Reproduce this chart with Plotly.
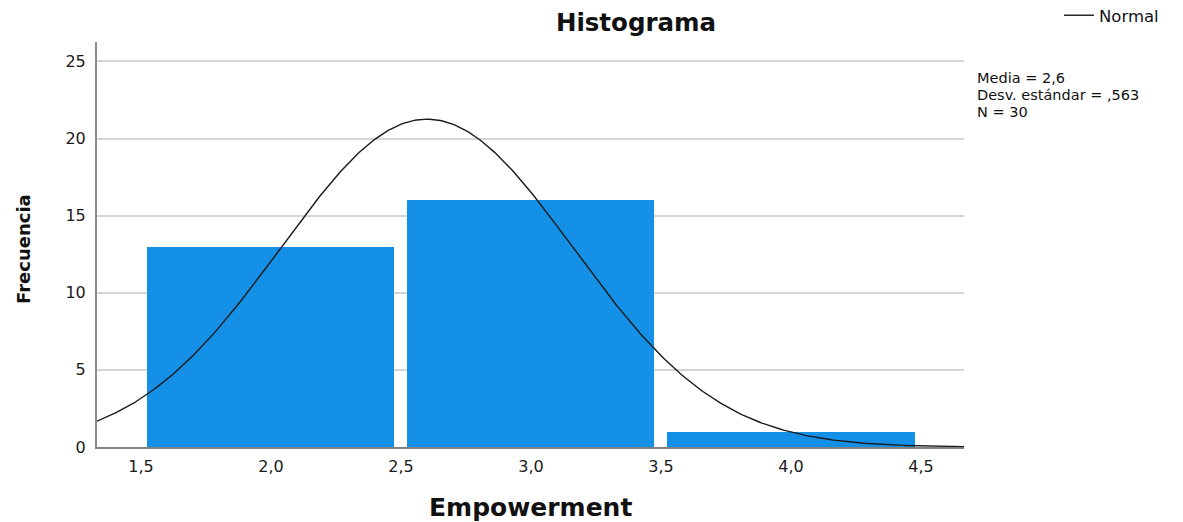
import numpy as np
import plotly.graph_objects as go

# Frequency table for Empowerment (bins of width 1)
bin_centers = [2.0, 3.0, 4.0]
counts = [13, 16, 1]

# Descriptive statistics shown beside the chart
mean_val = 2.6
sd_val = 0.563
n_obs = 30
bin_width = 1.0

x_tick_vals = [1.5, 2.0, 2.5, 3.0, 3.5, 4.0, 4.5]
x_tick_text = ["1,5", "2,0", "2,5", "3,0", "3,5", "4,0", "4,5"]
y_tick_vals = [0, 5, 10, 15, 20, 25]
y_tick_text = ["0", "5", "10", "15", "20", "25"]

x_range = [1.3308, 4.6654]
y_range = [0, 26.26]

# Fitted normal curve scaled to the histogram counts
xs = np.linspace(x_range[0], x_range[1], 400)
ys = n_obs * bin_width / (sd_val * np.sqrt(2 * np.pi)) * np.exp(-0.5 * ((xs - mean_val) / sd_val) ** 2)

fig = go.Figure()
fig.add_trace(go.Bar(
    x=bin_centers, y=counts, width=0.95,
    marker=dict(color="#1490E6", line=dict(width=0)),
    showlegend=False, hoverinfo="x+y",
))
fig.add_trace(go.Scatter(
    x=xs, y=ys, mode="lines", name="Normal",
    line=dict(color="#1a1a1a", width=1.4),
))

def es_num(v, d):
    s = f"{v:.{d}f}".replace(".", ",")
    return s[1:] if s.startswith("0,") else s

stats_lines = [
    f"Media = {es_num(mean_val, 1)}",
    f"Desv. estándar = {es_num(sd_val, 3)}",
    f"N = {n_obs}",
]
stats_y = [78, 95, 112]  # pixel rows from the top of the figure

L, T, W, H = 97, 42, 867, 405
annotations = []
for txt, py in zip(stats_lines, stats_y):
    annotations.append(dict(
        text=txt, xref="paper", yref="paper",
        x=(975 - L) / W, y=(T + H - py) / H,
        xanchor="left", yanchor="middle", showarrow=False,
        font=dict(family="DejaVu Sans", size=14.5, color="#111111"),
    ))
annotations.append(dict(
    text="<b>Frecuencia</b>", xref="paper", yref="paper",
    x=(24 - L) / W, y=(T + H - 249) / H, textangle=-90,
    xanchor="center", yanchor="middle", showarrow=False,
    font=dict(family="DejaVu Sans", size=18, color="#111111"),
))
annotations.append(dict(
    text="<b>Empowerment</b>", xref="paper", yref="paper",
    x=0.5, y=(T + H - 507) / H,
    xanchor="center", yanchor="middle", showarrow=False,
    font=dict(family="DejaVu Sans", size=25, color="#111111"),
))

fig.update_layout(
    width=1183, height=522,
    margin=dict(l=L, r=1183 - L - W, t=T, b=522 - T - H, autoexpand=False),
    paper_bgcolor="white", plot_bgcolor="white",
    title=dict(
        text="<b>Histograma</b>", x=636 / 1183, xanchor="center",
        xref="container", y=1 - 22 / 522, yref="container", yanchor="middle",
        font=dict(family="DejaVu Sans", size=24.5, color="#111111"),
    ),
    bargap=0,
    legend=dict(
        x=(1059 - L) / W, y=(T + H + 2) / H, xanchor="left", yanchor="top",
        bgcolor="rgba(0,0,0,0)", font=dict(family="DejaVu Sans", size=16.5, color="#111111"),
    ),
    showlegend=True,
    annotations=annotations,
    xaxis=dict(
        range=x_range, tickvals=x_tick_vals, ticktext=x_tick_text,
        showgrid=False, zeroline=False, showline=True, linecolor="#808080", linewidth=2,
        ticks="", ticklabelstandoff=4,
        tickfont=dict(family="DejaVu Sans", size=16, color="#1a1a1a"),
    ),
    yaxis=dict(
        range=y_range, tickvals=y_tick_vals, ticktext=y_tick_text,
        showgrid=True, gridcolor="#d6d6d6", gridwidth=1.5, zeroline=False,
        showline=True, linecolor="#8a8a8a", linewidth=2,
        ticks="", ticklabelstandoff=6,
        tickfont=dict(family="DejaVu Sans", size=16, color="#1a1a1a"),
    ),
)

fig.write_html("out.html")
